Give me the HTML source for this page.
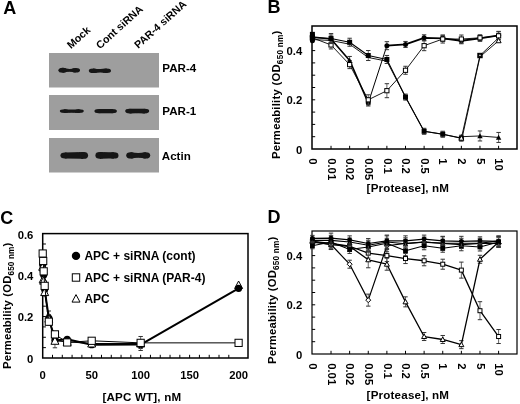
<!DOCTYPE html>
<html><head><meta charset="utf-8"><style>
html,body{margin:0;padding:0;background:#fff;}
svg{display:block;filter:blur(0.3px);}
</style></head><body>
<svg width="520" height="404" viewBox="0 0 520 404" font-family='"Liberation Sans", sans-serif' fill="#000">
<defs><filter id="bl" x="-20%" y="-80%" width="140%" height="260%"><feGaussianBlur stdDeviation="0.7"/></filter></defs>
<rect width="520" height="404" fill="#fff"/>
<text x="3.2" y="13.8" font-size="18" font-weight="bold">A</text>
<text x="71" y="49.2" font-size="10.6" font-weight="bold" transform="rotate(-42 71 49.2)">Mock</text>
<text x="100" y="49.4" font-size="10.6" font-weight="bold" transform="rotate(-42 100 49.4)">Cont siRNA</text>
<text x="138.3" y="49" font-size="10.6" font-weight="bold" transform="rotate(-42 138.3 49)">PAR-4 siRNA</text>
<rect x="49" y="53" width="110" height="34.5" fill="#9e9e9e"/>
<rect x="49" y="95" width="110" height="35" fill="#9e9e9e"/>
<rect x="49" y="138" width="110" height="34.5" fill="#9e9e9e"/>
<g fill="#141414" filter="url(#bl)">
<ellipse cx="62.72" cy="70.3" rx="4.32" ry="2.5"/>
<ellipse cx="75.68" cy="70.3" rx="4.32" ry="2.3"/>
<path d="M62.72 67.8Q69.2 69.9 75.68 68V72.6Q69.2 70.7 62.72 72.8Z"/>
<ellipse cx="93.24" cy="70.8" rx="4.44" ry="2.3"/>
<ellipse cx="106.56" cy="70.8" rx="4.44" ry="2.2"/>
<path d="M93.24 68.5Q99.9 69.45 106.56 68.6V73Q99.9 72.15 93.24 73.1Z"/>
<ellipse cx="64.3" cy="111.1" rx="4.5" ry="1.9"/>
<ellipse cx="79.3" cy="111.1" rx="4.5" ry="1.95"/>
<path d="M64.3 109.2Q71.8 109.72 79.3 109.15V113.05Q71.8 112.47 64.3 113Z"/>
<ellipse cx="98.9" cy="111.1" rx="4.5" ry="2.2"/>
<ellipse cx="112.4" cy="111.1" rx="4.5" ry="2.2"/>
<path d="M98.9 108.9Q105.65 109.2 112.4 108.9V113.3Q105.65 113 98.9 113.3Z"/>
<ellipse cx="129.7" cy="111.1" rx="4.5" ry="2.4"/>
<ellipse cx="144.7" cy="111.1" rx="4.5" ry="2.4"/>
<path d="M129.7 108.7Q137.2 109 144.7 108.7V113.5Q137.2 113.2 129.7 113.5Z"/>
<ellipse cx="64.9" cy="155.4" rx="4.5" ry="3"/>
<ellipse cx="83.6" cy="155.4" rx="4.5" ry="3.4"/>
<path d="M64.9 152.4Q74.25 152.4 83.6 152V158.8Q74.25 158.4 64.9 158.4Z"/>
<ellipse cx="99.9" cy="155.4" rx="4.5" ry="3.3"/>
<ellipse cx="114" cy="155.4" rx="4.5" ry="3.2"/>
<path d="M99.9 152.1Q106.95 152.35 114 152.2V158.6Q106.95 158.45 99.9 158.7Z"/>
<ellipse cx="130.7" cy="155.4" rx="4.5" ry="3.1"/>
<ellipse cx="145.7" cy="155.4" rx="4.5" ry="3.1"/>
<path d="M130.7 152.3Q138.2 153.9 145.7 152.3V158.5Q138.2 156.9 130.7 158.5Z"/>
</g>
<text x="162.3" y="72.4" font-size="11.6" font-weight="bold">PAR-4</text>
<text x="162.3" y="115.3" font-size="11.6" font-weight="bold">PAR-1</text>
<text x="161.8" y="160" font-size="11.6" font-weight="bold">Actin</text>
<text x="267.6" y="13.1" font-size="18" font-weight="bold">B</text>
<rect x="312" y="26" width="205" height="123" fill="none" stroke="#000" stroke-width="1.5"/>
<path d="M312 136.7h3.2M312 124.4h3.2M312 112.1h3.2M312 99.8h3.2M312 87.5h3.2M312 75.2h3.2M312 62.9h3.2M312 50.6h3.2M312 38.3h3.2M331.02 149v-3.2M349.64 149v-3.2M368.26 149v-3.2M386.88 149v-3.2M405.5 149v-3.2M424.12 149v-3.2M442.74 149v-3.2M461.36 149v-3.2M479.98 149v-3.2M498.6 149v-3.2" stroke="#000" stroke-width="1"/>
<text x="302.3" y="153.6" font-size="11.3" font-weight="bold" text-anchor="end">0</text>
<text x="302.3" y="104.4" font-size="11.3" font-weight="bold" text-anchor="end">0.2</text>
<text x="302.3" y="55.2" font-size="11.3" font-weight="bold" text-anchor="end">0.4</text>
<text x="309.1" y="158.2" font-size="11.3" font-weight="bold" transform="rotate(90 309.1 158.2)">0</text>
<text x="327.72" y="158.2" font-size="11.3" font-weight="bold" transform="rotate(90 327.72 158.2)">0.01</text>
<text x="346.34" y="158.2" font-size="11.3" font-weight="bold" transform="rotate(90 346.34 158.2)">0.02</text>
<text x="364.96" y="158.2" font-size="11.3" font-weight="bold" transform="rotate(90 364.96 158.2)">0.05</text>
<text x="383.58" y="158.2" font-size="11.3" font-weight="bold" transform="rotate(90 383.58 158.2)">0.1</text>
<text x="402.2" y="158.2" font-size="11.3" font-weight="bold" transform="rotate(90 402.2 158.2)">0.2</text>
<text x="420.82" y="158.2" font-size="11.3" font-weight="bold" transform="rotate(90 420.82 158.2)">0.5</text>
<text x="439.44" y="158.2" font-size="11.3" font-weight="bold" transform="rotate(90 439.44 158.2)">1</text>
<text x="458.06" y="158.2" font-size="11.3" font-weight="bold" transform="rotate(90 458.06 158.2)">2</text>
<text x="476.68" y="158.2" font-size="11.3" font-weight="bold" transform="rotate(90 476.68 158.2)">5</text>
<text x="495.3" y="158.2" font-size="11.3" font-weight="bold" transform="rotate(90 495.3 158.2)">10</text>
<text x="366.6" y="192" font-size="11.6" font-weight="bold" textLength="82.4" lengthAdjust="spacing">[Protease], nM</text>
<text x="-159.1" y="279.9" font-size="11.3" font-weight="bold" textLength="128.4" lengthAdjust="spacing" transform="rotate(-90)">Permeability (OD<tspan font-size="8.2" dy="2.8">650 nm</tspan><tspan dy="-2.8">)</tspan></text>
<path d="M479.98 130.96V140.96" stroke="#555" stroke-width="0.9" fill="none"/><path d="M477.78 130.96H482.18M477.78 140.96H482.18" stroke="#333" stroke-width="1" fill="none"/><path d="M498.6 132.44V142.44" stroke="#555" stroke-width="0.9" fill="none"/><path d="M496.4 132.44H500.8M496.4 142.44H500.8" stroke="#333" stroke-width="1" fill="none"/><path d="M461.36 136.7L479.98 135.96L498.6 137.44" fill="none" stroke="#000" stroke-width="0.9" stroke-linejoin="round"/><path d="M461.36 134L464.06 139.1L458.66 139.1Z" fill="#000"/><path d="M479.98 133.26L482.68 138.36L477.28 138.36Z" fill="#000"/><path d="M498.6 134.74L501.3 139.84L495.9 139.84Z" fill="#000"/>
<path d="M312.4 39.53L331.02 40.51L349.64 44.2L368.26 57.49L386.88 61.18L405.5 97.09L424.12 131.29L442.74 134.24L462.06 138.18L479.98 56.72L498.6 40.76" fill="none" stroke="#000" stroke-width="0.9" stroke-linejoin="round"/>
<path d="M312.4 34.07V40.07" stroke="#555" stroke-width="0.9" fill="none"/><path d="M310.2 34.07H314.6M310.2 40.07H314.6" stroke="#333" stroke-width="1" fill="none"/><path d="M331.02 35.04V43.04" stroke="#555" stroke-width="0.9" fill="none"/><path d="M328.82 35.04H333.22M328.82 43.04H333.22" stroke="#333" stroke-width="1" fill="none"/><path d="M349.64 56.44V64.44" stroke="#555" stroke-width="0.9" fill="none"/><path d="M347.44 56.44H351.84M347.44 64.44H351.84" stroke="#333" stroke-width="1" fill="none"/><path d="M368.26 100V106" stroke="#555" stroke-width="0.9" fill="none"/><path d="M366.06 100H370.46M366.06 106H370.46" stroke="#333" stroke-width="1" fill="none"/><path d="M312.4 37.07L331.02 39.04L349.64 60.44L368.26 103" fill="none" stroke="#000" stroke-width="1.6" stroke-linejoin="round"/>
<path d="M368.26 103L386.88 45.68" fill="none" stroke="#000" stroke-width="1.0" stroke-linejoin="round"/>
<path d="M386.88 41.68V49.68" stroke="#555" stroke-width="0.9" fill="none"/><path d="M384.68 41.68H389.08M384.68 49.68H389.08" stroke="#333" stroke-width="1" fill="none"/><path d="M405.5 41.45V47.45" stroke="#555" stroke-width="0.9" fill="none"/><path d="M403.3 41.45H407.7M403.3 47.45H407.7" stroke="#333" stroke-width="1" fill="none"/><path d="M424.12 34.81V40.81" stroke="#555" stroke-width="0.9" fill="none"/><path d="M421.92 34.81H426.32M421.92 40.81H426.32" stroke="#333" stroke-width="1" fill="none"/><path d="M442.74 35.3V41.3" stroke="#555" stroke-width="0.9" fill="none"/><path d="M440.54 35.3H444.94M440.54 41.3H444.94" stroke="#333" stroke-width="1" fill="none"/><path d="M461.36 37.76V43.76" stroke="#555" stroke-width="0.9" fill="none"/><path d="M459.16 37.76H463.56M459.16 43.76H463.56" stroke="#333" stroke-width="1" fill="none"/><path d="M479.98 35.3V41.3" stroke="#555" stroke-width="0.9" fill="none"/><path d="M477.78 35.3H482.18M477.78 41.3H482.18" stroke="#333" stroke-width="1" fill="none"/><path d="M498.6 31.35V39.35" stroke="#555" stroke-width="0.9" fill="none"/><path d="M496.4 31.35H500.8M496.4 39.35H500.8" stroke="#333" stroke-width="1" fill="none"/><path d="M386.88 45.68L405.5 44.45L424.12 37.81L442.74 38.3L461.36 40.76L479.98 38.3L498.6 35.35" fill="none" stroke="#000" stroke-width="1.8" stroke-linejoin="round"/>
<circle cx="312.4" cy="37.07" r="2.5" fill="#000"/><circle cx="331.02" cy="39.04" r="2.5" fill="#000"/><circle cx="368.26" cy="103" r="2.5" fill="#000"/><circle cx="386.88" cy="45.68" r="2.5" fill="#000"/><circle cx="405.5" cy="44.45" r="2.5" fill="#000"/><circle cx="424.12" cy="37.81" r="2.5" fill="#000"/><circle cx="442.74" cy="38.3" r="2.5" fill="#000"/><circle cx="461.36" cy="40.76" r="2.5" fill="#000"/><circle cx="479.98" cy="38.3" r="2.5" fill="#000"/><circle cx="498.6" cy="35.35" r="2.5" fill="#000"/>
<path d="M312.4 34.81V40.81" stroke="#555" stroke-width="0.9" fill="none"/><path d="M310.2 34.81H314.6M310.2 40.81H314.6" stroke="#333" stroke-width="1" fill="none"/><path d="M331.02 40.94V48.94" stroke="#555" stroke-width="0.9" fill="none"/><path d="M328.82 40.94H333.22M328.82 48.94H333.22" stroke="#333" stroke-width="1" fill="none"/><path d="M349.64 60.62V68.62" stroke="#555" stroke-width="0.9" fill="none"/><path d="M347.44 60.62H351.84M347.44 68.62H351.84" stroke="#333" stroke-width="1" fill="none"/><path d="M368.26 94.8V104.8" stroke="#555" stroke-width="0.9" fill="none"/><path d="M366.06 94.8H370.46M366.06 104.8H370.46" stroke="#333" stroke-width="1" fill="none"/><path d="M386.88 83.7V97.7" stroke="#555" stroke-width="0.9" fill="none"/><path d="M384.68 83.7H389.08M384.68 97.7H389.08" stroke="#333" stroke-width="1" fill="none"/><path d="M405.5 66.28V74.28" stroke="#555" stroke-width="0.9" fill="none"/><path d="M403.3 66.28H407.7M403.3 74.28H407.7" stroke="#333" stroke-width="1" fill="none"/><path d="M424.12 40.68V50.68" stroke="#555" stroke-width="0.9" fill="none"/><path d="M421.92 40.68H426.32M421.92 50.68H426.32" stroke="#333" stroke-width="1" fill="none"/><path d="M442.74 35.04V43.04" stroke="#555" stroke-width="0.9" fill="none"/><path d="M440.54 35.04H444.94M440.54 43.04H444.94" stroke="#333" stroke-width="1" fill="none"/><path d="M461.36 35.04V43.04" stroke="#555" stroke-width="0.9" fill="none"/><path d="M459.16 35.04H463.56M459.16 43.04H463.56" stroke="#333" stroke-width="1" fill="none"/><path d="M479.98 34.81V40.81" stroke="#555" stroke-width="0.9" fill="none"/><path d="M477.78 34.81H482.18M477.78 40.81H482.18" stroke="#333" stroke-width="1" fill="none"/><path d="M498.6 31.84V39.84" stroke="#555" stroke-width="0.9" fill="none"/><path d="M496.4 31.84H500.8M496.4 39.84H500.8" stroke="#333" stroke-width="1" fill="none"/><path d="M312.4 37.81L331.02 44.94L349.64 64.62L368.26 99.8L386.88 90.7L405.5 70.28L424.12 45.68L442.74 39.04L461.36 39.04L479.98 37.81L498.6 35.84" fill="none" stroke="#000" stroke-width="0.9" stroke-linejoin="round"/><rect x="310.3" y="35.71" width="4.2" height="4.2" fill="#fff" stroke="#000" stroke-width="1"/><rect x="328.92" y="42.84" width="4.2" height="4.2" fill="#fff" stroke="#000" stroke-width="1"/><rect x="347.54" y="62.52" width="4.2" height="4.2" fill="#fff" stroke="#000" stroke-width="1"/><rect x="366.16" y="97.7" width="4.2" height="4.2" fill="#fff" stroke="#000" stroke-width="1"/><rect x="384.78" y="88.6" width="4.2" height="4.2" fill="#fff" stroke="#000" stroke-width="1"/><rect x="403.4" y="68.18" width="4.2" height="4.2" fill="#fff" stroke="#000" stroke-width="1"/><rect x="422.02" y="43.58" width="4.2" height="4.2" fill="#fff" stroke="#000" stroke-width="1"/><rect x="440.64" y="36.94" width="4.2" height="4.2" fill="#fff" stroke="#000" stroke-width="1"/><rect x="459.26" y="36.94" width="4.2" height="4.2" fill="#fff" stroke="#000" stroke-width="1"/><rect x="477.88" y="35.71" width="4.2" height="4.2" fill="#fff" stroke="#000" stroke-width="1"/><rect x="496.5" y="33.74" width="4.2" height="4.2" fill="#fff" stroke="#000" stroke-width="1"/>
<path d="M312.4 34.56V40.56" stroke="#555" stroke-width="0.9" fill="none"/><path d="M310.2 34.56H314.6M310.2 40.56H314.6" stroke="#333" stroke-width="1" fill="none"/><path d="M331.02 33.55V43.55" stroke="#555" stroke-width="0.9" fill="none"/><path d="M328.82 33.55H333.22M328.82 43.55H333.22" stroke="#333" stroke-width="1" fill="none"/><path d="M349.64 38.24V46.24" stroke="#555" stroke-width="0.9" fill="none"/><path d="M347.44 38.24H351.84M347.44 46.24H351.84" stroke="#333" stroke-width="1" fill="none"/><path d="M368.26 50.52V60.52" stroke="#555" stroke-width="0.9" fill="none"/><path d="M366.06 50.52H370.46M366.06 60.52H370.46" stroke="#333" stroke-width="1" fill="none"/><path d="M386.88 55.46V63.46" stroke="#555" stroke-width="0.9" fill="none"/><path d="M384.68 55.46H389.08M384.68 63.46H389.08" stroke="#333" stroke-width="1" fill="none"/><path d="M405.5 94.09V100.09" stroke="#555" stroke-width="0.9" fill="none"/><path d="M403.3 94.09H407.7M403.3 100.09H407.7" stroke="#333" stroke-width="1" fill="none"/><path d="M424.12 128.29V134.29" stroke="#555" stroke-width="0.9" fill="none"/><path d="M421.92 128.29H426.32M421.92 134.29H426.32" stroke="#333" stroke-width="1" fill="none"/><path d="M442.74 131.24V137.24" stroke="#555" stroke-width="0.9" fill="none"/><path d="M440.54 131.24H444.94M440.54 137.24H444.94" stroke="#333" stroke-width="1" fill="none"/><path d="M461.36 135.18V141.18" stroke="#555" stroke-width="0.9" fill="none"/><path d="M459.16 135.18H463.56M459.16 141.18H463.56" stroke="#333" stroke-width="1" fill="none"/><path d="M312.4 37.56L331.02 38.55L349.64 42.24L368.26 55.52L386.88 59.46L405.5 97.09L424.12 131.29L442.74 134.24L461.36 138.18" fill="none" stroke="#000" stroke-width="1.1" stroke-linejoin="round"/><rect x="309.9" y="35.06" width="5" height="5" fill="#000"/><rect x="328.52" y="36.05" width="5" height="5" fill="#000"/><rect x="347.14" y="39.74" width="5" height="5" fill="#000"/><rect x="365.76" y="53.02" width="5" height="5" fill="#000"/><rect x="384.38" y="56.96" width="5" height="5" fill="#000"/><rect x="403" y="94.59" width="5" height="5" fill="#000"/><rect x="421.62" y="128.79" width="5" height="5" fill="#000"/><rect x="440.24" y="131.74" width="5" height="5" fill="#000"/><rect x="458.86" y="135.68" width="5" height="5" fill="#000"/>
<path d="M461.36 138.18L479.98 55.52L498.6 37.81" fill="none" stroke="#000" stroke-width="0.9" stroke-linejoin="round"/>
<path d="M349.64 57.64L352.44 62.94L346.84 62.94Z" fill="#000"/>
<rect x="309.9" y="31.86" width="5" height="5" fill="#000"/><circle cx="312.4" cy="40.76" r="2.5" fill="#000"/>
<rect x="477.28" y="52.82" width="5.4" height="5.4" fill="#000"/><path d="M479.98 53.23L481.78 56.33L478.18 56.33Z" fill="#fff" stroke="#000" stroke-width="1"/>
<path d="M461.36 135.68L463.86 140.18L458.86 140.18Z" fill="#fff" stroke="#000" stroke-width="1"/><path d="M498.6 38.26L501.1 42.76L496.1 42.76Z" fill="#fff" stroke="#000" stroke-width="1"/>
<text x="0.3" y="223.6" font-size="18" font-weight="bold">C</text>
<rect x="42.7" y="233.6" width="205.3" height="124.4" fill="none" stroke="#000" stroke-width="1.5"/>
<path d="M42.7 347.63h3.2M42.7 337.27h3.2M42.7 326.9h3.2M42.7 316.54h3.2M42.7 306.18h3.2M42.7 295.81h3.2M42.7 285.44h3.2M42.7 275.08h3.2M42.7 264.72h3.2M42.7 254.35h3.2M42.7 243.99h3.2M52.5 358v-3.2M62.29 358v-3.2M72.09 358v-3.2M81.88 358v-3.2M91.68 358v-3.2M101.47 358v-3.2M111.27 358v-3.2M121.06 358v-3.2M130.86 358v-3.2M140.65 358v-3.2M150.44 358v-3.2M160.24 358v-3.2M170.04 358v-3.2M179.83 358v-3.2M189.62 358v-3.2M199.42 358v-3.2M209.22 358v-3.2M219.01 358v-3.2M228.81 358v-3.2" stroke="#000" stroke-width="1"/>
<text x="33.4" y="362.9" font-size="11.3" font-weight="bold" text-anchor="end">0</text>
<text x="33.4" y="321.44" font-size="11.3" font-weight="bold" text-anchor="end">0.2</text>
<text x="33.4" y="279.98" font-size="11.3" font-weight="bold" text-anchor="end">0.4</text>
<text x="33.4" y="238.52" font-size="11.3" font-weight="bold" text-anchor="end">0.6</text>
<text x="42.7" y="378.6" font-size="11.3" font-weight="bold" text-anchor="middle">0</text>
<text x="91.68" y="378.6" font-size="11.3" font-weight="bold" text-anchor="middle">50</text>
<text x="140.65" y="378.6" font-size="11.3" font-weight="bold" text-anchor="middle">100</text>
<text x="189.62" y="378.6" font-size="11.3" font-weight="bold" text-anchor="middle">150</text>
<text x="238.6" y="378.6" font-size="11.3" font-weight="bold" text-anchor="middle">200</text>
<text x="102.5" y="400.6" font-size="11.6" font-weight="bold" textLength="78.6" lengthAdjust="spacing">[APC WT], nM</text>
<text x="-368.9" y="10.9" font-size="11.3" font-weight="bold" textLength="126.2" lengthAdjust="spacing" transform="rotate(-90)">Permeability (OD<tspan font-size="8.2" dy="2.8">650 nm</tspan><tspan dy="-2.8">)</tspan></text>
<path d="M238.6 281.03L242.6 288.53L234.6 288.53Z" fill="#fff" stroke="#000" stroke-width="1"/>
<path d="M48.82 310.99V324.99" stroke="#555" stroke-width="0.9" fill="none"/><path d="M46.62 310.99H51.02M46.62 324.99H51.02" stroke="#333" stroke-width="1" fill="none"/><path d="M140.65 340.53V348.53" stroke="#555" stroke-width="0.9" fill="none"/><path d="M138.45 340.53H142.85M138.45 348.53H142.85" stroke="#333" stroke-width="1" fill="none"/><path d="M42.7 264.71L43.19 270.93L43.68 275.08L44.66 289.59L48.82 317.99L54.94 340.38L67.19 339.34L91.68 344.73L140.65 344.53L238.6 288.35" fill="none" stroke="#000" stroke-width="2.0" stroke-linejoin="round"/><circle cx="42.7" cy="264.71" r="3.6" fill="#000"/><circle cx="43.19" cy="270.93" r="3.6" fill="#000"/><circle cx="43.68" cy="275.08" r="3.6" fill="#000"/><circle cx="44.66" cy="289.59" r="3.6" fill="#000"/><circle cx="48.82" cy="317.99" r="3.6" fill="#000"/><circle cx="54.94" cy="340.38" r="3.6" fill="#000"/><circle cx="67.19" cy="339.34" r="3.6" fill="#000"/><circle cx="91.68" cy="344.73" r="3.6" fill="#000"/><circle cx="140.65" cy="344.53" r="3.6" fill="#000"/><circle cx="238.6" cy="288.35" r="3.6" fill="#000"/>
<path d="M48.82 314.61V322.61" stroke="#555" stroke-width="0.9" fill="none"/><path d="M46.62 314.61H51.02M46.62 322.61H51.02" stroke="#333" stroke-width="1" fill="none"/><path d="M54.94 333.79V347.79" stroke="#555" stroke-width="0.9" fill="none"/><path d="M52.74 333.79H57.14M52.74 347.79H57.14" stroke="#333" stroke-width="1" fill="none"/><path d="M140.65 336.49V350.49" stroke="#555" stroke-width="0.9" fill="none"/><path d="M138.45 336.49H142.85M138.45 350.49H142.85" stroke="#333" stroke-width="1" fill="none"/><path d="M42.7 266.79L43.19 279.23L43.68 280.68L44.66 292.08L48.82 318.61L54.94 340.79L67.19 341.83L91.68 343.49L140.65 343.49" fill="none" stroke="#000" stroke-width="1.0" stroke-linejoin="round"/><path d="M42.7 262.79L46.7 270.29L38.7 270.29Z" fill="#fff" stroke="#000" stroke-width="1"/><path d="M43.19 275.23L47.19 282.73L39.19 282.73Z" fill="#fff" stroke="#000" stroke-width="1"/><path d="M43.68 276.68L47.68 284.18L39.68 284.18Z" fill="#fff" stroke="#000" stroke-width="1"/><path d="M44.66 288.08L48.66 295.58L40.66 295.58Z" fill="#fff" stroke="#000" stroke-width="1"/><path d="M48.82 314.61L52.82 322.11L44.82 322.11Z" fill="#fff" stroke="#000" stroke-width="1"/><path d="M54.94 336.79L58.94 344.29L50.94 344.29Z" fill="#fff" stroke="#000" stroke-width="1"/><path d="M67.19 337.83L71.19 345.33L63.19 345.33Z" fill="#fff" stroke="#000" stroke-width="1"/><path d="M91.68 339.49L95.68 346.99L87.68 346.99Z" fill="#fff" stroke="#000" stroke-width="1"/><path d="M140.65 339.49L144.65 346.99L136.65 346.99Z" fill="#fff" stroke="#000" stroke-width="1"/>
<path d="M42.7 253.52L43.19 260.98L43.68 271.35L44.66 285.86L48.82 321.72L54.94 334.37L67.19 342.45L91.68 340.79L140.65 342.87L238.6 342.87" fill="none" stroke="#000" stroke-width="1.0" stroke-linejoin="round"/><rect x="39.1" y="249.92" width="7.2" height="7.2" fill="#fff" stroke="#000" stroke-width="1"/><rect x="39.59" y="257.38" width="7.2" height="7.2" fill="#fff" stroke="#000" stroke-width="1"/><rect x="40.08" y="267.75" width="7.2" height="7.2" fill="#fff" stroke="#000" stroke-width="1"/><rect x="41.06" y="282.26" width="7.2" height="7.2" fill="#fff" stroke="#000" stroke-width="1"/><rect x="45.22" y="318.12" width="7.2" height="7.2" fill="#fff" stroke="#000" stroke-width="1"/><rect x="51.34" y="330.77" width="7.2" height="7.2" fill="#fff" stroke="#000" stroke-width="1"/><rect x="63.59" y="338.85" width="7.2" height="7.2" fill="#fff" stroke="#000" stroke-width="1"/><rect x="88.08" y="337.19" width="7.2" height="7.2" fill="#fff" stroke="#000" stroke-width="1"/><rect x="137.05" y="339.27" width="7.2" height="7.2" fill="#fff" stroke="#000" stroke-width="1"/><rect x="235" y="339.27" width="7.2" height="7.2" fill="#fff" stroke="#000" stroke-width="1"/>
<circle cx="76" cy="255.9" r="4.2" fill="#000"/>
<text x="84.4" y="260.1" font-size="12" font-weight="bold">APC + siRNA (cont)</text>
<rect x="72.3" y="273.8" width="7.4" height="7.4" fill="#fff" stroke="#000" stroke-width="1"/>
<text x="84.4" y="281.7" font-size="12" font-weight="bold">APC + siRNA (PAR-4)</text>
<path d="M76 294.6L80 302.1L72 302.1Z" fill="#fff" stroke="#000" stroke-width="1"/>
<text x="84.4" y="302.8" font-size="12" font-weight="bold">APC</text>
<text x="267.6" y="223" font-size="18" font-weight="bold">D</text>
<rect x="312" y="231" width="205" height="123" fill="none" stroke="#000" stroke-width="1.2"/>
<path d="M312 341.7h3.2M312 329.4h3.2M312 317.1h3.2M312 304.8h3.2M312 292.5h3.2M312 280.2h3.2M312 267.9h3.2M312 255.6h3.2M312 243.3h3.2M331.02 354v-3.2M349.64 354v-3.2M368.26 354v-3.2M386.88 354v-3.2M405.5 354v-3.2M424.12 354v-3.2M442.74 354v-3.2M461.36 354v-3.2M479.98 354v-3.2M498.6 354v-3.2" stroke="#000" stroke-width="1"/>
<text x="302.3" y="358.6" font-size="11.3" font-weight="bold" text-anchor="end">0</text>
<text x="302.3" y="309.4" font-size="11.3" font-weight="bold" text-anchor="end">0.2</text>
<text x="302.3" y="260.2" font-size="11.3" font-weight="bold" text-anchor="end">0.4</text>
<text x="309.1" y="363.2" font-size="11.3" font-weight="bold" transform="rotate(90 309.1 363.2)">0</text>
<text x="327.72" y="363.2" font-size="11.3" font-weight="bold" transform="rotate(90 327.72 363.2)">0.01</text>
<text x="346.34" y="363.2" font-size="11.3" font-weight="bold" transform="rotate(90 346.34 363.2)">0.02</text>
<text x="364.96" y="363.2" font-size="11.3" font-weight="bold" transform="rotate(90 364.96 363.2)">0.05</text>
<text x="383.58" y="363.2" font-size="11.3" font-weight="bold" transform="rotate(90 383.58 363.2)">0.1</text>
<text x="402.2" y="363.2" font-size="11.3" font-weight="bold" transform="rotate(90 402.2 363.2)">0.2</text>
<text x="420.82" y="363.2" font-size="11.3" font-weight="bold" transform="rotate(90 420.82 363.2)">0.5</text>
<text x="439.44" y="363.2" font-size="11.3" font-weight="bold" transform="rotate(90 439.44 363.2)">1</text>
<text x="458.06" y="363.2" font-size="11.3" font-weight="bold" transform="rotate(90 458.06 363.2)">2</text>
<text x="476.68" y="363.2" font-size="11.3" font-weight="bold" transform="rotate(90 476.68 363.2)">5</text>
<text x="495.3" y="363.2" font-size="11.3" font-weight="bold" transform="rotate(90 495.3 363.2)">10</text>
<text x="366.6" y="399.2" font-size="11.6" font-weight="bold" textLength="82.4" lengthAdjust="spacing">[Protease], nM</text>
<text x="-364" y="276.4" font-size="11.3" font-weight="bold" textLength="127.2" lengthAdjust="spacing" transform="rotate(-90)">Permeability (OD<tspan font-size="8.2" dy="2.8">650 nm</tspan><tspan dy="-2.8">)</tspan></text>
<path d="M312.4 238.33V244.33" stroke="#555" stroke-width="0.9" fill="none"/><path d="M310.2 238.33H314.6M310.2 244.33H314.6" stroke="#333" stroke-width="1" fill="none"/><path d="M331.02 238.3V248.3" stroke="#555" stroke-width="0.9" fill="none"/><path d="M328.82 238.3H333.22M328.82 248.3H333.22" stroke="#333" stroke-width="1" fill="none"/><path d="M349.64 241.25V251.25" stroke="#555" stroke-width="0.9" fill="none"/><path d="M347.44 241.25H351.84M347.44 251.25H351.84" stroke="#333" stroke-width="1" fill="none"/><path d="M368.26 248.14V258.14" stroke="#555" stroke-width="0.9" fill="none"/><path d="M366.06 248.14H370.46M366.06 258.14H370.46" stroke="#333" stroke-width="1" fill="none"/><path d="M386.88 249.6V261.6" stroke="#555" stroke-width="0.9" fill="none"/><path d="M384.68 249.6H389.08M384.68 261.6H389.08" stroke="#333" stroke-width="1" fill="none"/><path d="M405.5 253.55V263.55" stroke="#555" stroke-width="0.9" fill="none"/><path d="M403.3 253.55H407.7M403.3 263.55H407.7" stroke="#333" stroke-width="1" fill="none"/><path d="M424.12 255.77V265.77" stroke="#555" stroke-width="0.9" fill="none"/><path d="M421.92 255.77H426.32M421.92 265.77H426.32" stroke="#333" stroke-width="1" fill="none"/><path d="M442.74 259.21V269.21" stroke="#555" stroke-width="0.9" fill="none"/><path d="M440.54 259.21H444.94M440.54 269.21H444.94" stroke="#333" stroke-width="1" fill="none"/><path d="M461.36 262.11V278.11" stroke="#555" stroke-width="0.9" fill="none"/><path d="M459.16 262.11H463.56M459.16 278.11H463.56" stroke="#333" stroke-width="1" fill="none"/><path d="M479.98 301.7V319.7" stroke="#555" stroke-width="0.9" fill="none"/><path d="M477.78 301.7H482.18M477.78 319.7H482.18" stroke="#333" stroke-width="1" fill="none"/><path d="M498.6 329.53V343.53" stroke="#555" stroke-width="0.9" fill="none"/><path d="M496.4 329.53H500.8M496.4 343.53H500.8" stroke="#333" stroke-width="1" fill="none"/><path d="M312.4 241.33L331.02 243.3L349.64 246.25L368.26 253.14L386.88 255.6L405.5 258.55L424.12 260.77L442.74 264.21L461.36 270.11L479.98 310.7L498.6 336.53" fill="none" stroke="#000" stroke-width="1.3" stroke-linejoin="round"/><rect x="310.4" y="239.33" width="4" height="4" fill="#fff" stroke="#000" stroke-width="1"/><rect x="329.02" y="241.3" width="4" height="4" fill="#fff" stroke="#000" stroke-width="1"/><rect x="347.64" y="244.25" width="4" height="4" fill="#fff" stroke="#000" stroke-width="1"/><rect x="366.26" y="251.14" width="4" height="4" fill="#fff" stroke="#000" stroke-width="1"/><rect x="384.88" y="253.6" width="4" height="4" fill="#fff" stroke="#000" stroke-width="1"/><rect x="403.5" y="256.55" width="4" height="4" fill="#fff" stroke="#000" stroke-width="1"/><rect x="422.12" y="258.77" width="4" height="4" fill="#fff" stroke="#000" stroke-width="1"/><rect x="440.74" y="262.21" width="4" height="4" fill="#fff" stroke="#000" stroke-width="1"/><rect x="459.36" y="268.11" width="4" height="4" fill="#fff" stroke="#000" stroke-width="1"/><rect x="477.98" y="308.7" width="4" height="4" fill="#fff" stroke="#000" stroke-width="1"/><rect x="496.6" y="334.53" width="4" height="4" fill="#fff" stroke="#000" stroke-width="1"/>
<path d="M312.4 238.33V244.33" stroke="#555" stroke-width="0.9" fill="none"/><path d="M310.2 238.33H314.6M310.2 244.33H314.6" stroke="#333" stroke-width="1" fill="none"/><path d="M331.02 239.53V249.53" stroke="#555" stroke-width="0.9" fill="none"/><path d="M328.82 239.53H333.22M328.82 249.53H333.22" stroke="#333" stroke-width="1" fill="none"/><path d="M349.64 241.25V251.25" stroke="#555" stroke-width="0.9" fill="none"/><path d="M347.44 241.25H351.84M347.44 251.25H351.84" stroke="#333" stroke-width="1" fill="none"/><path d="M368.26 251.78V267.78" stroke="#555" stroke-width="0.9" fill="none"/><path d="M366.06 251.78H370.46M366.06 267.78H370.46" stroke="#333" stroke-width="1" fill="none"/><path d="M386.88 258.21V270.21" stroke="#555" stroke-width="0.9" fill="none"/><path d="M384.68 258.21H389.08M384.68 270.21H389.08" stroke="#333" stroke-width="1" fill="none"/><path d="M405.5 296.85V306.85" stroke="#555" stroke-width="0.9" fill="none"/><path d="M403.3 296.85H407.7M403.3 306.85H407.7" stroke="#333" stroke-width="1" fill="none"/><path d="M424.12 332.53V340.53" stroke="#555" stroke-width="0.9" fill="none"/><path d="M421.92 332.53H426.32M421.92 340.53H426.32" stroke="#333" stroke-width="1" fill="none"/><path d="M442.74 335.49V343.49" stroke="#555" stroke-width="0.9" fill="none"/><path d="M440.54 335.49H444.94M440.54 343.49H444.94" stroke="#333" stroke-width="1" fill="none"/><path d="M461.36 340.65V348.65" stroke="#555" stroke-width="0.9" fill="none"/><path d="M459.16 340.65H463.56M459.16 348.65H463.56" stroke="#333" stroke-width="1" fill="none"/><path d="M479.98 255.29V263.29" stroke="#555" stroke-width="0.9" fill="none"/><path d="M477.78 255.29H482.18M477.78 263.29H482.18" stroke="#333" stroke-width="1" fill="none"/><path d="M498.6 237.07V247.07" stroke="#555" stroke-width="0.9" fill="none"/><path d="M496.4 237.07H500.8M496.4 247.07H500.8" stroke="#333" stroke-width="1" fill="none"/><path d="M312.4 241.33L331.02 244.53L349.64 246.25L368.26 259.78L386.88 264.21L405.5 301.85L424.12 336.53L442.74 339.49L461.36 344.65L479.98 259.29L498.6 242.07" fill="none" stroke="#000" stroke-width="1.3" stroke-linejoin="round"/><path d="M312.4 238.83L314.9 243.33L309.9 243.33Z" fill="#fff" stroke="#000" stroke-width="1"/><path d="M331.02 242.03L333.52 246.53L328.52 246.53Z" fill="#fff" stroke="#000" stroke-width="1"/><path d="M349.64 243.75L352.14 248.25L347.14 248.25Z" fill="#fff" stroke="#000" stroke-width="1"/><path d="M368.26 257.28L370.76 261.78L365.76 261.78Z" fill="#fff" stroke="#000" stroke-width="1"/><path d="M386.88 261.71L389.38 266.21L384.38 266.21Z" fill="#fff" stroke="#000" stroke-width="1"/><path d="M405.5 299.35L408 303.85L403 303.85Z" fill="#fff" stroke="#000" stroke-width="1"/><path d="M424.12 334.03L426.62 338.53L421.62 338.53Z" fill="#fff" stroke="#000" stroke-width="1"/><path d="M442.74 336.99L445.24 341.49L440.24 341.49Z" fill="#fff" stroke="#000" stroke-width="1"/><path d="M461.36 342.15L463.86 346.65L458.86 346.65Z" fill="#fff" stroke="#000" stroke-width="1"/><path d="M479.98 256.79L482.48 261.29L477.48 261.29Z" fill="#fff" stroke="#000" stroke-width="1"/><path d="M498.6 239.57L501.1 244.07L496.1 244.07Z" fill="#fff" stroke="#000" stroke-width="1"/>
<path d="M312.4 239.07V245.07" stroke="#555" stroke-width="0.9" fill="none"/><path d="M310.2 239.07H314.6M310.2 245.07H314.6" stroke="#333" stroke-width="1" fill="none"/><path d="M331.02 239.53V249.53" stroke="#555" stroke-width="0.9" fill="none"/><path d="M328.82 239.53H333.22M328.82 249.53H333.22" stroke="#333" stroke-width="1" fill="none"/><path d="M349.64 260.21V268.21" stroke="#555" stroke-width="0.9" fill="none"/><path d="M347.44 260.21H351.84M347.44 268.21H351.84" stroke="#333" stroke-width="1" fill="none"/><path d="M368.26 294.13V306.13" stroke="#555" stroke-width="0.9" fill="none"/><path d="M366.06 294.13H370.46M366.06 306.13H370.46" stroke="#333" stroke-width="1" fill="none"/><path d="M386.88 239.76V251.76" stroke="#555" stroke-width="0.9" fill="none"/><path d="M384.68 239.76H389.08M384.68 251.76H389.08" stroke="#333" stroke-width="1" fill="none"/><path d="M405.5 239.3V247.3" stroke="#555" stroke-width="0.9" fill="none"/><path d="M403.3 239.3H407.7M403.3 247.3H407.7" stroke="#333" stroke-width="1" fill="none"/><path d="M424.12 238.07V246.07" stroke="#555" stroke-width="0.9" fill="none"/><path d="M421.92 238.07H426.32M421.92 246.07H426.32" stroke="#333" stroke-width="1" fill="none"/><path d="M442.74 239.3V247.3" stroke="#555" stroke-width="0.9" fill="none"/><path d="M440.54 239.3H444.94M440.54 247.3H444.94" stroke="#333" stroke-width="1" fill="none"/><path d="M461.36 240.53V248.53" stroke="#555" stroke-width="0.9" fill="none"/><path d="M459.16 240.53H463.56M459.16 248.53H463.56" stroke="#333" stroke-width="1" fill="none"/><path d="M479.98 239.3V247.3" stroke="#555" stroke-width="0.9" fill="none"/><path d="M477.78 239.3H482.18M477.78 247.3H482.18" stroke="#333" stroke-width="1" fill="none"/><path d="M498.6 239.3V247.3" stroke="#555" stroke-width="0.9" fill="none"/><path d="M496.4 239.3H500.8M496.4 247.3H500.8" stroke="#333" stroke-width="1" fill="none"/><path d="M312.4 242.07L331.02 244.53L349.64 264.21L368.26 300.13L386.88 245.76L405.5 243.3L424.12 242.07L442.74 243.3L461.36 244.53L479.98 243.3L498.6 243.3" fill="none" stroke="#000" stroke-width="1.2" stroke-linejoin="round"/><path d="M312.4 239.57L314.9 242.07L312.4 244.57L309.9 242.07Z" fill="#fff" stroke="#000" stroke-width="1"/><path d="M331.02 242.03L333.52 244.53L331.02 247.03L328.52 244.53Z" fill="#fff" stroke="#000" stroke-width="1"/><path d="M349.64 261.71L352.14 264.21L349.64 266.71L347.14 264.21Z" fill="#fff" stroke="#000" stroke-width="1"/><path d="M368.26 297.63L370.76 300.13L368.26 302.63L365.76 300.13Z" fill="#fff" stroke="#000" stroke-width="1"/><path d="M386.88 243.26L389.38 245.76L386.88 248.26L384.38 245.76Z" fill="#fff" stroke="#000" stroke-width="1"/><path d="M405.5 240.8L408 243.3L405.5 245.8L403 243.3Z" fill="#fff" stroke="#000" stroke-width="1"/><path d="M424.12 239.57L426.62 242.07L424.12 244.57L421.62 242.07Z" fill="#fff" stroke="#000" stroke-width="1"/><path d="M442.74 240.8L445.24 243.3L442.74 245.8L440.24 243.3Z" fill="#fff" stroke="#000" stroke-width="1"/><path d="M461.36 242.03L463.86 244.53L461.36 247.03L458.86 244.53Z" fill="#fff" stroke="#000" stroke-width="1"/><path d="M479.98 240.8L482.48 243.3L479.98 245.8L477.48 243.3Z" fill="#fff" stroke="#000" stroke-width="1"/><path d="M498.6 240.8L501.1 243.3L498.6 245.8L496.1 243.3Z" fill="#fff" stroke="#000" stroke-width="1"/>
<path d="M312.4 237.35V243.35" stroke="#555" stroke-width="0.9" fill="none"/><path d="M310.2 237.35H314.6M310.2 243.35H314.6" stroke="#333" stroke-width="1" fill="none"/><path d="M331.02 235.35V245.35" stroke="#555" stroke-width="0.9" fill="none"/><path d="M328.82 235.35H333.22M328.82 245.35H333.22" stroke="#333" stroke-width="1" fill="none"/><path d="M349.64 238.07V246.07" stroke="#555" stroke-width="0.9" fill="none"/><path d="M347.44 238.07H351.84M347.44 246.07H351.84" stroke="#333" stroke-width="1" fill="none"/><path d="M368.26 240.27V250.27" stroke="#555" stroke-width="0.9" fill="none"/><path d="M366.06 240.27H370.46M366.06 250.27H370.46" stroke="#333" stroke-width="1" fill="none"/><path d="M386.88 235.07V249.07" stroke="#555" stroke-width="0.9" fill="none"/><path d="M384.68 235.07H389.08M384.68 249.07H389.08" stroke="#333" stroke-width="1" fill="none"/><path d="M405.5 237.79V249.79" stroke="#555" stroke-width="0.9" fill="none"/><path d="M403.3 237.79H407.7M403.3 249.79H407.7" stroke="#333" stroke-width="1" fill="none"/><path d="M424.12 237.07V247.07" stroke="#555" stroke-width="0.9" fill="none"/><path d="M421.92 237.07H426.32M421.92 247.07H426.32" stroke="#333" stroke-width="1" fill="none"/><path d="M442.74 236.3V250.3" stroke="#555" stroke-width="0.9" fill="none"/><path d="M440.54 236.3H444.94M440.54 250.3H444.94" stroke="#333" stroke-width="1" fill="none"/><path d="M461.36 238.3V248.3" stroke="#555" stroke-width="0.9" fill="none"/><path d="M459.16 238.3H463.56M459.16 248.3H463.56" stroke="#333" stroke-width="1" fill="none"/><path d="M479.98 238.3V248.3" stroke="#555" stroke-width="0.9" fill="none"/><path d="M477.78 238.3H482.18M477.78 248.3H482.18" stroke="#333" stroke-width="1" fill="none"/><path d="M498.6 235.84V245.84" stroke="#555" stroke-width="0.9" fill="none"/><path d="M496.4 235.84H500.8M496.4 245.84H500.8" stroke="#333" stroke-width="1" fill="none"/><path d="M312.4 240.35L331.02 240.35L349.64 242.07L368.26 245.27L386.88 242.07L405.5 243.79L424.12 242.07L442.74 243.3L461.36 243.3L479.98 243.3L498.6 240.84" fill="none" stroke="#000" stroke-width="1.1" stroke-linejoin="round"/><path d="M312.4 237.65L315.1 242.75L309.7 242.75Z" fill="#000"/><path d="M331.02 237.65L333.72 242.75L328.32 242.75Z" fill="#000"/><path d="M349.64 239.37L352.34 244.47L346.94 244.47Z" fill="#000"/><path d="M368.26 242.57L370.96 247.67L365.56 247.67Z" fill="#000"/><path d="M386.88 239.37L389.58 244.47L384.18 244.47Z" fill="#000"/><path d="M405.5 241.09L408.2 246.19L402.8 246.19Z" fill="#000"/><path d="M424.12 239.37L426.82 244.47L421.42 244.47Z" fill="#000"/><path d="M442.74 240.6L445.44 245.7L440.04 245.7Z" fill="#000"/><path d="M461.36 240.6L464.06 245.7L458.66 245.7Z" fill="#000"/><path d="M479.98 240.6L482.68 245.7L477.28 245.7Z" fill="#000"/><path d="M498.6 238.14L501.3 243.24L495.9 243.24Z" fill="#000"/>
<path d="M312.4 242.76V248.76" stroke="#555" stroke-width="0.9" fill="none"/><path d="M310.2 242.76H314.6M310.2 248.76H314.6" stroke="#333" stroke-width="1" fill="none"/><path d="M331.02 237.07V247.07" stroke="#555" stroke-width="0.9" fill="none"/><path d="M328.82 237.07H333.22M328.82 247.07H333.22" stroke="#333" stroke-width="1" fill="none"/><path d="M349.64 245.45V253.45" stroke="#555" stroke-width="0.9" fill="none"/><path d="M347.44 245.45H351.84M347.44 253.45H351.84" stroke="#333" stroke-width="1" fill="none"/><path d="M368.26 241.99V251.99" stroke="#555" stroke-width="0.9" fill="none"/><path d="M366.06 241.99H370.46M366.06 251.99H370.46" stroke="#333" stroke-width="1" fill="none"/><path d="M386.88 238.3V248.3" stroke="#555" stroke-width="0.9" fill="none"/><path d="M384.68 238.3H389.08M384.68 248.3H389.08" stroke="#333" stroke-width="1" fill="none"/><path d="M405.5 245.68V255.68" stroke="#555" stroke-width="0.9" fill="none"/><path d="M403.3 245.68H407.7M403.3 255.68H407.7" stroke="#333" stroke-width="1" fill="none"/><path d="M424.12 241.76V249.76" stroke="#555" stroke-width="0.9" fill="none"/><path d="M421.92 241.76H426.32M421.92 249.76H426.32" stroke="#333" stroke-width="1" fill="none"/><path d="M442.74 244.22V252.22" stroke="#555" stroke-width="0.9" fill="none"/><path d="M440.54 244.22H444.94M440.54 252.22H444.94" stroke="#333" stroke-width="1" fill="none"/><path d="M461.36 240.76V250.76" stroke="#555" stroke-width="0.9" fill="none"/><path d="M459.16 240.76H463.56M459.16 250.76H463.56" stroke="#333" stroke-width="1" fill="none"/><path d="M479.98 242.99V250.99" stroke="#555" stroke-width="0.9" fill="none"/><path d="M477.78 242.99H482.18M477.78 250.99H482.18" stroke="#333" stroke-width="1" fill="none"/><path d="M498.6 237.07V247.07" stroke="#555" stroke-width="0.9" fill="none"/><path d="M496.4 237.07H500.8M496.4 247.07H500.8" stroke="#333" stroke-width="1" fill="none"/><path d="M312.4 245.76L331.02 242.07L349.64 249.45L368.26 246.99L386.88 243.3L405.5 250.68L424.12 245.76L442.74 248.22L461.36 245.76L479.98 246.99L498.6 242.07" fill="none" stroke="#000" stroke-width="1.1" stroke-linejoin="round"/><rect x="310" y="243.36" width="4.8" height="4.8" fill="#000"/><rect x="328.62" y="239.67" width="4.8" height="4.8" fill="#000"/><rect x="347.24" y="247.05" width="4.8" height="4.8" fill="#000"/><rect x="365.86" y="244.59" width="4.8" height="4.8" fill="#000"/><rect x="384.48" y="240.9" width="4.8" height="4.8" fill="#000"/><rect x="403.1" y="248.28" width="4.8" height="4.8" fill="#000"/><rect x="421.72" y="243.36" width="4.8" height="4.8" fill="#000"/><rect x="440.34" y="245.82" width="4.8" height="4.8" fill="#000"/><rect x="458.96" y="243.36" width="4.8" height="4.8" fill="#000"/><rect x="477.58" y="244.59" width="4.8" height="4.8" fill="#000"/><rect x="496.2" y="239.67" width="4.8" height="4.8" fill="#000"/>
<path d="M312.4 235.38V241.38" stroke="#555" stroke-width="0.9" fill="none"/><path d="M310.2 235.38H314.6M310.2 241.38H314.6" stroke="#333" stroke-width="1" fill="none"/><path d="M331.02 233.13V243.13" stroke="#555" stroke-width="0.9" fill="none"/><path d="M328.82 233.13H333.22M328.82 243.13H333.22" stroke="#333" stroke-width="1" fill="none"/><path d="M349.64 235.86V243.86" stroke="#555" stroke-width="0.9" fill="none"/><path d="M347.44 235.86H351.84M347.44 243.86H351.84" stroke="#333" stroke-width="1" fill="none"/><path d="M368.26 238.55V248.55" stroke="#555" stroke-width="0.9" fill="none"/><path d="M366.06 238.55H370.46M366.06 248.55H370.46" stroke="#333" stroke-width="1" fill="none"/><path d="M386.88 235.84V245.84" stroke="#555" stroke-width="0.9" fill="none"/><path d="M384.68 235.84H389.08M384.68 245.84H389.08" stroke="#333" stroke-width="1" fill="none"/><path d="M405.5 235.84V245.84" stroke="#555" stroke-width="0.9" fill="none"/><path d="M403.3 235.84H407.7M403.3 245.84H407.7" stroke="#333" stroke-width="1" fill="none"/><path d="M424.12 235.12V243.12" stroke="#555" stroke-width="0.9" fill="none"/><path d="M421.92 235.12H426.32M421.92 243.12H426.32" stroke="#333" stroke-width="1" fill="none"/><path d="M442.74 236.84V244.84" stroke="#555" stroke-width="0.9" fill="none"/><path d="M440.54 236.84H444.94M440.54 244.84H444.94" stroke="#333" stroke-width="1" fill="none"/><path d="M461.36 236.33V246.33" stroke="#555" stroke-width="0.9" fill="none"/><path d="M459.16 236.33H463.56M459.16 246.33H463.56" stroke="#333" stroke-width="1" fill="none"/><path d="M479.98 236.84V244.84" stroke="#555" stroke-width="0.9" fill="none"/><path d="M477.78 236.84H482.18M477.78 244.84H482.18" stroke="#333" stroke-width="1" fill="none"/><path d="M498.6 236.33V246.33" stroke="#555" stroke-width="0.9" fill="none"/><path d="M496.4 236.33H500.8M496.4 246.33H500.8" stroke="#333" stroke-width="1" fill="none"/><path d="M312.4 238.38L331.02 238.13L349.64 239.86L368.26 243.55L386.88 240.84L405.5 240.84L424.12 239.12L442.74 240.84L461.36 241.33L479.98 240.84L498.6 241.33" fill="none" stroke="#000" stroke-width="1.1" stroke-linejoin="round"/><circle cx="312.4" cy="238.38" r="2.4" fill="#000"/><circle cx="331.02" cy="238.13" r="2.4" fill="#000"/><circle cx="349.64" cy="239.86" r="2.4" fill="#000"/><circle cx="368.26" cy="243.55" r="2.4" fill="#000"/><circle cx="386.88" cy="240.84" r="2.4" fill="#000"/><circle cx="405.5" cy="240.84" r="2.4" fill="#000"/><circle cx="424.12" cy="239.12" r="2.4" fill="#000"/><circle cx="442.74" cy="240.84" r="2.4" fill="#000"/><circle cx="461.36" cy="241.33" r="2.4" fill="#000"/><circle cx="479.98" cy="240.84" r="2.4" fill="#000"/><circle cx="498.6" cy="241.33" r="2.4" fill="#000"/>
</svg>
</body></html>
